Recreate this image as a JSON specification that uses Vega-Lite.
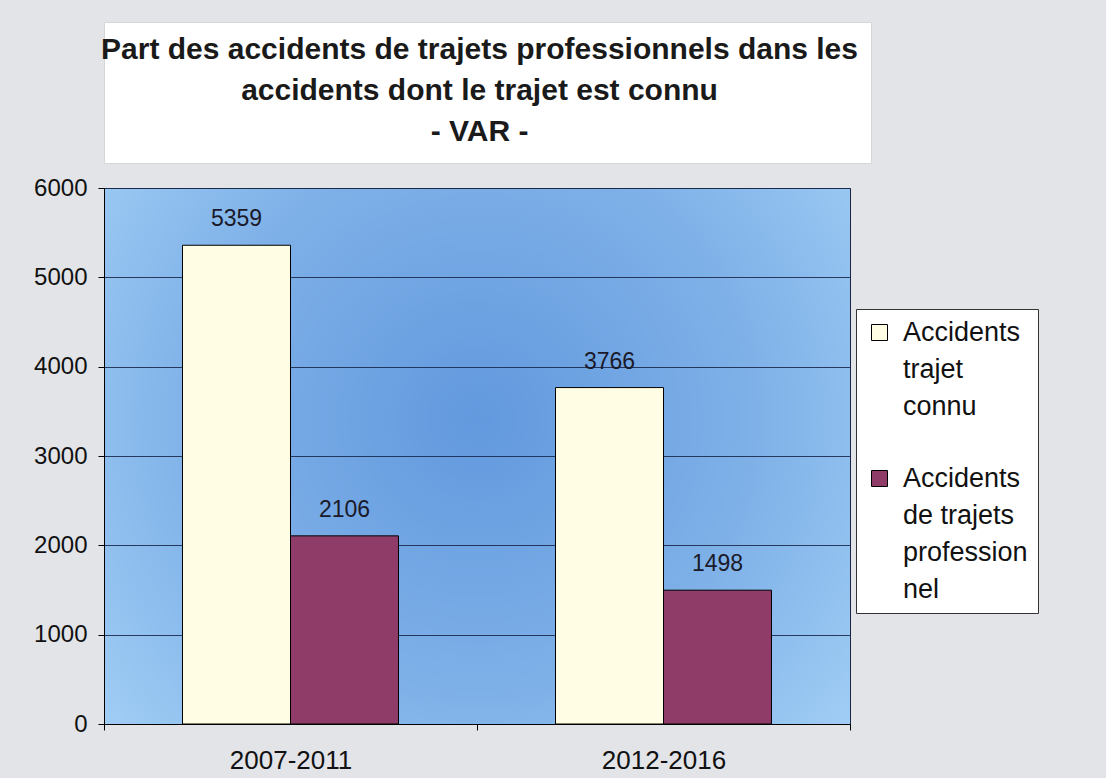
{
  "$schema": "https://vega.github.io/schema/vega-lite/v6.json",
  "background": "#e2e4e8",
  "padding": {"left": 33, "top": 21, "right": 75, "bottom": 12},
  "spacing": 11,
  "columns": 1,
  "align": "none",
  "config": {
    "font": "Liberation Sans",
    "axis": {"labelFont": "Liberation Sans", "domainColor": "#000000", "tickColor": "#000000", "labelColor": "#111111"},
    "legend": {"labelFont": "Liberation Sans"},
    "style": {"guide-label": {"lineHeight": 37}}
  },
  "concat": [
    {
      "width": 767,
      "height": 141,
      "view": {"fill": "#ffffff", "stroke": "#d6d6d6"},
      "data": {"values": [
        {"line": 1, "t": "Part des accidents de trajets professionnels dans les"},
        {"line": 2, "t": "accidents dont le trajet est connu"},
        {"line": 3, "t": "- VAR -"}
      ]},
      "mark": {"type": "text", "font": "Liberation Sans", "fontWeight": "bold", "fontSize": 30, "color": "#1a1a1a", "baseline": "alphabetic", "align": "center", "dx": -8},
      "encoding": {
        "y": {"field": "line", "type": "quantitative", "scale": {"domain": [0.1, 3.54], "reverse": true, "nice": false, "zero": false}, "axis": null},
        "x": {"datum": 0.5, "type": "quantitative", "scale": {"domain": [0, 1], "nice": false, "zero": false}, "axis": null},
        "text": {"field": "t"}
      }
    },
    {
      "width": 746,
      "height": 536,
      "view": {
        "stroke": "#1a2540",
        "fill": {"gradient": "radial", "x1": 0.5, "y1": 0.45, "r1": 0, "x2": 0.5, "y2": 0.45, "r2": 0.75,
                 "stops": [{"offset": 0, "color": "#6299de"}, {"offset": 0.5, "color": "#7fb1e8"}, {"offset": 1, "color": "#acd8f9"}]}
      },
      "data": {"values": [
        {"period": "2007-2011", "series": "Accidents trajet connu", "value": 5359},
        {"period": "2007-2011", "series": "Accidents de trajets professionnel", "value": 2106},
        {"period": "2012-2016", "series": "Accidents trajet connu", "value": 3766},
        {"period": "2012-2016", "series": "Accidents de trajets professionnel", "value": 1498}
      ]},
      "encoding": {
        "x": {"field": "period", "type": "nominal", "title": null,
              "scale": {"paddingInner": 0, "paddingOuter": 0},
              "axis": {"labelAngle": 0, "labelFontSize": 26, "tickBand": "extent", "tickSize": 6, "labelPadding": 17, "domainWidth": 1}},
        "xOffset": {"field": "series", "type": "nominal",
                    "sort": ["Accidents trajet connu", "Accidents de trajets professionnel"],
                    "scale": {"paddingOuter": 0.727, "paddingInner": 0}},
        "y": {"field": "value", "type": "quantitative", "title": null,
              "scale": {"domain": [0, 6000], "nice": false},
              "axis": {"values": [0, 1000, 2000, 3000, 4000, 5000, 6000], "format": "d", "labelFontSize": 24, "tickSize": 6, "labelPadding": 11,
                       "grid": true, "gridColor": "#1c2a4e", "gridWidth": 1, "gridOpacity": 0.9}}
      },
      "layer": [
        {
          "mark": {"type": "bar", "stroke": "#000000", "strokeWidth": 1},
          "encoding": {
            "color": {"field": "series", "type": "nominal",
                      "sort": ["Accidents trajet connu", "Accidents de trajets professionnel"],
                      "scale": {"domain": ["Accidents trajet connu", "Accidents de trajets professionnel"], "range": ["#fffde3", "#8f3d68"]},
                      "legend": {"orient": "none", "legendX": 752, "legendY": 287, "title": null,
                                 "fillColor": "#ffffff", "strokeColor": "#333333", "padding": 10,
                                 "symbolType": "square", "symbolSize": 256, "symbolStrokeColor": "#000000", "symbolStrokeWidth": 1,
                                 "labelFontSize": 27, "labelColor": "#111111", "labelOffset": 10, "labelLimit": 400,
                                 "labelBaseline": "middle", "rowPadding": 44,
                                 "labelExpr": "datum.label == 'Accidents trajet connu' ? ['Accidents', 'trajet', 'connu'] : ['Accidents', 'de trajets', 'profession', 'nel']"}}
          }
        },
        {
          "mark": {"type": "text", "fontSize": 23, "color": "#1a1a2a", "baseline": "alphabetic", "dy": -19},
          "encoding": {"text": {"field": "value", "type": "quantitative"}}
        }
      ]
    }
  ]
}
